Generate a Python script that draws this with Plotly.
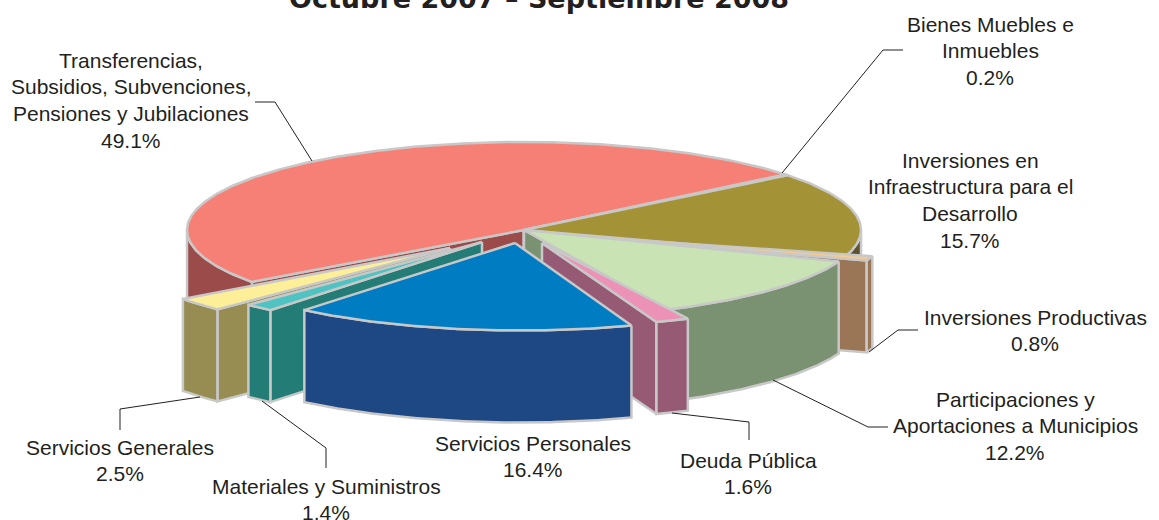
import math
import plotly.graph_objects as go

# ---- data ----
categories = ["Inversiones en Infraestructura para el Desarrollo", "Inversiones Productivas",
              "Participaciones y Aportaciones a Municipios", "Deuda Pública", "Servicios Personales",
              "Materiales y Suministros", "Servicios Generales",
              "Transferencias, Subsidios, Subvenciones, Pensiones y Jubilaciones",
              "Bienes Muebles e Inmuebles"]
values = [15.7, 0.8, 12.2, 1.6, 16.4, 1.4, 2.5, 49.1, 0.2]
top_colors = ["#A39336", "#F8CB8C", "#C9E3B5", "#EC92B6", "#007CC3", "#4FC3C1", "#FDEE98", "#F68076", "#F5C9A0"]
side_colors = ["#5C5230", "#9A7556", "#7A9271", "#965A74", "#1E4884", "#247C76", "#978C52", "#9A4B4A", "#9A7556"]
# explosion of each slice (dx, dy of rim, dx, dy of tip), in pixels
rim_offset = [(0, 0), (28, -1), (0, 0), (21, 9), (-4, 12.5), (-38, 12.5), (-69, 17), (0, 0), (0, 0)]
tip_offset = [(0, 0), (4, 3), (0, 0), (18, 13), (-9, 13), (-42, 12), (-74, 18), (0, 0), (0, 0)]
# drawing order, back to front
draw_order = [7, 8, 0, 1, 2, 6, 5, 3, 4]

title = "Octubre 2007 – Septiembre 2008"
labels = [
    (["Transferencias,", "Subsidios, Subvenciones,", "Pensiones y Jubilaciones", "49.1%"], 131, 60),
    (["Bienes Muebles e", "Inmuebles", "0.2%"], 990, 24),
    (["Inversiones en", "Infraestructura para el", "Desarrollo", "15.7%"], 970, 160),
    (["Inversiones Productivas", "0.8%"], 1035, 317),
    (["Participaciones y", "Aportaciones a Municipios", "12.2%"], 1015, 399),
    (["Deuda Pública", "1.6%"], 748, 460),
    (["Servicios Personales", "16.4%"], 533, 443),
    (["Materiales y Suministros", "1.4%"], 326, 486),
    (["Servicios Generales", "2.5%"], 120, 447),
]
leaders = [
    [(255, 102), (275, 102), (312, 161)],
    [(782, 173), (883, 50), (903, 50)],
    [(869, 352), (898, 330), (918, 330)],
    [(773, 380), (868, 427), (888, 427)],
    [(672, 413), (749, 422), (749, 440)],
    [(262, 401), (326, 448), (326, 468)],
    [(200, 397), (120, 409), (120, 430)],
]

# ---- geometry of the pie ----
CX, CY, RX, RY, DEPTH = 524, 230, 337, 88, 92
START = -38.5
LINE = "#C8C8C8"
LW = 2.5
INK = "#231F20"


def rim(a, off):
    r = math.radians(a)
    return CX + RX * math.cos(r) + off[0], CY + RY * math.sin(r) + off[1]


def arc(a1, a2, off):
    n = max(2, int(abs(a2 - a1)) * 2)
    return [rim(a1 + (a2 - a1) * i / n, off) for i in range(n + 1)]


fig = go.Figure()


def poly(pts, fill):
    fig.add_trace(go.Scatter(
        x=[p[0] for p in pts] + [pts[0][0]], y=[p[1] for p in pts] + [pts[0][1]],
        mode="lines", fill="toself", fillcolor=fill,
        line=dict(color=LINE, width=LW), hoverinfo="skip", showlegend=False))


total = sum(values)
angles = []
a = START
for v in values:
    angles.append((a, a + v / total * 360))
    a += v / total * 360


def down(pts):
    return [(x, y + DEPTH) for x, y in pts]


for i in draw_order:
    a1, a2 = angles[i]
    ro, to = rim_offset[i], tip_offset[i]
    tip = (CX + to[0], CY + to[1])
    c = side_colors[i]
    # radial faces
    for edge in (a1, a2):
        visible = math.cos(math.radians(edge)) < 0 if edge == a1 else math.cos(math.radians(edge)) > 0
        if visible:
            e = rim(edge, ro)
            poly([tip, e, (e[0], e[1] + DEPTH), (tip[0], tip[1] + DEPTH)], c)
    # outer wall: only the front part
    for k in (0, 360):
        w1, w2 = max(a1, k), min(a2, k + 180)
        if w2 > w1:
            top = arc(w1, w2, ro)
            poly(top + down(top)[::-1], c)
    # top
    poly([tip] + arc(a1, a2, ro), top_colors[i])

for pts in leaders:
    fig.add_trace(go.Scatter(x=[p[0] for p in pts], y=[p[1] for p in pts], mode="lines",
                             line=dict(color=INK, width=1), hoverinfo="skip", showlegend=False))

ann = []
FONT = "Liberation Sans"
for lines, x, y in labels:
    for j, t in enumerate(lines):
        ann.append(dict(x=x, y=y + j * 26.8, text=t, showarrow=False, xanchor="center", yanchor="middle",
                        xref="x", yref="y", font=dict(family=FONT, size=21, color=INK)))
ann.append(dict(x=539, y=1 + 2 / 520, text="<b>" + title + "</b>", showarrow=False, xanchor="center",
                yanchor="middle", xref="x", yref="paper",
                font=dict(family="DejaVu Sans", size=27, color=INK)))

fig.update_layout(width=1159, height=520, margin=dict(l=0, r=0, t=0, b=0), paper_bgcolor="white",
                  plot_bgcolor="white", annotations=ann,
                  xaxis=dict(range=[0, 1159], visible=False, fixedrange=True),
                  yaxis=dict(range=[520, 0], visible=False, fixedrange=True))
fig.write_html("out.html", config={"displayModeBar": False},
               post_script="document.body.style.margin='0';")
